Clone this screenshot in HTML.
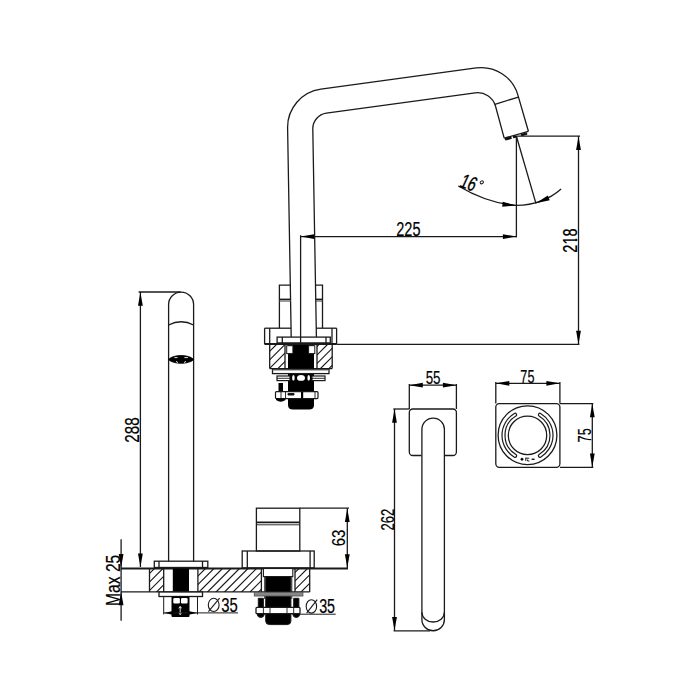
<!DOCTYPE html>
<html><head><meta charset="utf-8"><style>
html,body{margin:0;padding:0;background:#fff;width:700px;height:700px;overflow:hidden}
svg{display:block}
text{font-family:"Liberation Sans",sans-serif}
</style></head><body>
<svg width="700" height="700" viewBox="0 0 700 700" stroke="#1a1a1a" fill="none" stroke-linecap="butt">
<rect x="0" y="0" width="700" height="700" fill="#fff" stroke="none"/>
<path d="M291.2,337 L287.6,127.95 A38.5,38.5 0 0 1 320.9,89.14 L476.25,67.92 A38,38 0 0 1 517.84,94.85 L528.4,131.3" stroke-width="1.3" fill="none"/>
<path d="M316.4,337 L312.8,129.06 A15.75,15.75 0 0 1 326.4,113.19 L475.2,92.86 A18.5,18.5 0 0 1 495.54,106.26 L504.2,138.2" stroke-width="1.3" fill="none"/>
<line x1="494.9" y1="104.3" x2="518.5" y2="97.1" stroke-width="1.3"/>
<line x1="504.2" y1="138.2" x2="528.4" y2="131.3" stroke-width="1.3"/>
<path d="M505,138.7 L511,137.1 L511.4,138.5 L505.6,140.1 Z M513.2,136.6 L516,135.8 L516.4,137.1 L513.6,137.9 Z M521,134.4 L526.5,132.9 L527,134.3 L521.5,135.8 Z" fill="#000" stroke="#000" stroke-width="0.8"/>
<line x1="516.4" y1="136.2" x2="580" y2="136.2" stroke-width="1.3"/>
<line x1="516.4" y1="136.2" x2="516.4" y2="237.4" stroke-width="1.3"/>
<line x1="516.4" y1="136.2" x2="536" y2="203.6" stroke-width="1.3"/>
<line x1="300.7" y1="236.6" x2="516.4" y2="236.6" stroke-width="1.3"/>
<path d="M300.70,236.60 L314.20,234.20 L314.20,239.00 Z" fill="#000" stroke="none"/>
<path d="M516.40,236.60 L502.90,239.00 L502.90,234.20 Z" fill="#000" stroke="none"/>
<line x1="578.5" y1="136.2" x2="578.5" y2="344.5" stroke-width="1.3"/>
<path d="M578.50,136.60 L580.90,150.10 L576.10,150.10 Z" fill="#000" stroke="none"/>
<path d="M578.50,344.20 L576.10,330.70 L580.90,330.70 Z" fill="#000" stroke="none"/>
<line x1="336.6" y1="344.3" x2="579.4" y2="344.3" stroke-width="1.3"/>
<text transform="translate(396.269,235.610) scale(0.7264,0.9746)" x="0" y="0" font-size="20" fill="#000" stroke="#000" stroke-width="0.2">225</text>
<text transform="translate(577.010,252.631) rotate(-90) scale(0.7271,0.9746)" x="0" y="0" font-size="20" fill="#000" stroke="#000" stroke-width="0.2">218</text>
<rect x="574.3" y="236.3" width="3.4" height="2.5" rx="0" stroke="none" fill="#fff"/>
<rect x="574.3" y="241.1" width="3.4" height="2.9" rx="0" stroke="none" fill="#fff"/>
<path d="M458.3,186 Q488,203.5 516.4,205.4 Q543,205 561.1,189" stroke-width="1.3" fill="none"/>
<path d="M516.40,205.50 L502.24,206.65 L502.67,201.86 Z" fill="#000" stroke="none"/>
<path d="M535.80,203.20 L547.82,195.60 L549.71,200.23 Z" fill="#000" stroke="none"/>
<text transform="translate(458.4,186.4) rotate(19) skewX(-6) scale(0.68,1)" font-size="20.5" fill="#000" stroke="#000" stroke-width="0.4">16</text>
<ellipse cx="481.8" cy="182.3" rx="1.7" ry="1.4" transform="rotate(-30 481.8 182.3)" fill="none" stroke-width="1"/>
<path d="M291.0,285.2 L279.4,285.2 L279.4,328.2" stroke-width="1.3" fill="none"/>
<line x1="279.4" y1="299.3" x2="291.0" y2="299.3" stroke-width="1.4"/>
<line x1="279.4" y1="301.0" x2="291.0" y2="301.0" stroke-width="1.2" stroke="#555"/>
<path d="M315.8,285.2 L322.5,285.2 L322.5,328.2" stroke-width="1.3" fill="none"/>
<line x1="315.9" y1="299.3" x2="322.5" y2="299.3" stroke-width="1.4"/>
<line x1="315.9" y1="301.0" x2="322.5" y2="301.0" stroke-width="1.2" stroke="#555"/>
<line x1="300.6" y1="235.2" x2="300.6" y2="345" stroke-width="1.3"/>
<line x1="264.6" y1="328.2" x2="291.2" y2="328.2" stroke-width="1.3"/>
<line x1="316.4" y1="328.2" x2="336.6" y2="328.2" stroke-width="1.3"/>
<line x1="264.6" y1="328.2" x2="264.6" y2="344.3" stroke-width="1.3"/>
<line x1="336.6" y1="328.2" x2="336.6" y2="344.3" stroke-width="1.3"/>
<line x1="269.7" y1="328.2" x2="269.7" y2="344.3" stroke-width="1.3"/>
<line x1="332.0" y1="328.2" x2="332.0" y2="344.3" stroke-width="1.3"/>
<rect x="277.1" y="337.1" width="53.2" height="5.8" rx="0" stroke-width="1.3" fill="none"/>
<line x1="282.3" y1="337.1" x2="282.3" y2="342.9" stroke-width="1.3"/>
<line x1="326" y1="337.1" x2="326" y2="342.9" stroke-width="1.3"/>
<line x1="264.6" y1="344.0" x2="336.6" y2="344.0" stroke-width="2.0"/>
<clipPath id="c41"><rect x="269.7" y="344.3" width="15.300000000000011" height="24.30000000000001"/></clipPath>
<path d="M241.90,370.6 L270.20,342.3 M250.40,370.6 L278.70,342.3 M258.90,370.6 L287.20,342.3 M267.40,370.6 L295.70,342.3 M275.90,370.6 L304.20,342.3 M284.40,370.6 L312.70,342.3" clip-path="url(#c41)" stroke-width="1.2" fill="none"/>
<clipPath id="c43"><rect x="317" y="344.3" width="15.199999999999989" height="24.30000000000001"/></clipPath>
<path d="M284.40,370.6 L312.70,342.3 M292.90,370.6 L321.20,342.3 M301.40,370.6 L329.70,342.3 M309.90,370.6 L338.20,342.3 M318.40,370.6 L346.70,342.3 M326.90,370.6 L355.20,342.3 M335.40,370.6 L363.70,342.3" clip-path="url(#c43)" stroke-width="1.2" fill="none"/>
<line x1="269.7" y1="344.3" x2="269.7" y2="368.6" stroke-width="1.3"/>
<line x1="332.2" y1="344.3" x2="332.2" y2="368.6" stroke-width="1.3"/>
<line x1="269.7" y1="368.6" x2="332.2" y2="368.6" stroke-width="1.3"/>
<line x1="285" y1="344.3" x2="285" y2="368.6" stroke-width="1.3"/>
<line x1="317" y1="344.3" x2="317" y2="368.6" stroke-width="1.3"/>
<path d="M288,345 L314,345 L314,405 Q314,409.5 309,409.5 L293,409.5 Q288,409.5 288,405 Z" fill="#000" stroke="none"/>
<rect x="286.7" y="345.7" width="6.2" height="7.9" rx="0" stroke="none" fill="#fff"/>
<rect x="286.7" y="345.7" width="6.2" height="7.9" rx="0" stroke-width="1" fill="none"/>
<rect x="308.6" y="345.7" width="6.2" height="7.9" rx="0" stroke="none" fill="#fff"/>
<rect x="308.6" y="345.7" width="6.2" height="7.9" rx="0" stroke-width="1" fill="none"/>
<rect x="272.5" y="369.2" width="56.5" height="4.4" rx="0" stroke-width="1.3" fill="#fff"/>
<line x1="272.5" y1="370.2" x2="329" y2="370.2" stroke-width="0.8" stroke="#777"/>
<rect x="277" y="376" width="13" height="4.6" rx="0" stroke-width="1.2" fill="#fff"/>
<line x1="277" y1="378.3" x2="290" y2="378.3" stroke-width="0.9"/>
<rect x="312" y="376" width="13" height="4.6" rx="0" stroke-width="1.2" fill="#fff"/>
<line x1="312" y1="378.3" x2="325" y2="378.3" stroke-width="0.9"/>
<ellipse cx="293.4" cy="377.9" rx="1.3" ry="2.9" fill="#fff" stroke="none"/>
<ellipse cx="301" cy="377.9" rx="4" ry="2.9" fill="#fff" stroke="none"/>
<ellipse cx="308.7" cy="377.9" rx="1.3" ry="2.9" fill="#fff" stroke="none"/>
<rect x="278.5" y="383" width="4.5" height="9" rx="0" stroke="none" fill="#000"/>
<rect x="275.5" y="391.6" width="42.5" height="7" rx="1" stroke-width="1.2" fill="#fff"/>
<line x1="281" y1="391.6" x2="281" y2="398.6" stroke-width="0.9"/>
<line x1="285.5" y1="391.6" x2="285.5" y2="398.6" stroke-width="0.9"/>
<line x1="315" y1="391.6" x2="315" y2="398.6" stroke-width="0.9"/>
<rect x="301" y="392" width="2.2" height="6.5" rx="0" stroke="none" fill="#000"/>
<path d="M288,393.5 L294,393.5 L294,395 L288,395 Z" fill="#000"/>
<path d="M276,398.6 L285.5,398.6 L285.5,400 Q280.7,403.5 276,400 Z" fill="#000" stroke="none"/>
<path d="M168.6,561.4 L168.6,304.6 A12.5,12.5 0 0 1 193.6,304.6 L193.6,561.4" stroke-width="1.3" fill="none"/>
<path d="M168.6,325 Q181.1,318.5 193.6,325" stroke-width="1.3" fill="none"/>
<path d="M168.6,359.5 C173,354.2 189,354.2 193.7,359.5 C189,364.6 173,364.6 168.6,359.5 Z" fill="#000" stroke="#000" stroke-width="0.8"/>
<path d="M174.4,357.6 L177.5,357.6 M184.4,357.6 L187.9,357.6 M176,361.4 L178,362.6 M184,362.6 L186,361.4" stroke="#fff" stroke-width="0.9"/>
<rect x="154.3" y="561.2" width="53.5" height="6.3" rx="0" stroke-width="1.3" fill="none"/>
<line x1="159" y1="561.2" x2="159" y2="567.5" stroke-width="1.3"/>
<line x1="202.5" y1="561.2" x2="202.5" y2="567.5" stroke-width="1.3"/>
<line x1="138.6" y1="292" x2="180.6" y2="292" stroke-width="1.3"/>
<line x1="140.4" y1="292" x2="140.4" y2="567" stroke-width="1.3"/>
<path d="M140.40,292.30 L142.80,305.80 L138.00,305.80 Z" fill="#000" stroke="none"/>
<path d="M140.40,567.00 L138.00,553.50 L142.80,553.50 Z" fill="#000" stroke="none"/>
<text transform="translate(139.406,442.767) rotate(-90) scale(0.7620,0.9958)" x="0" y="0" font-size="20" fill="#000" stroke="#000" stroke-width="0.2">288</text>
<line x1="121" y1="568.5" x2="348" y2="568.5" stroke-width="1.8"/>
<line x1="121" y1="591.9" x2="309.7" y2="591.9" stroke-width="1.3"/>
<clipPath id="c86"><rect x="149.5" y="568.5" width="14.199999999999989" height="23.399999999999977"/></clipPath>
<path d="M120.60,593.9 L148.00,566.5 M129.10,593.9 L156.50,566.5 M137.60,593.9 L165.00,566.5 M146.10,593.9 L173.50,566.5 M154.60,593.9 L182.00,566.5 M163.10,593.9 L190.50,566.5" clip-path="url(#c86)" stroke-width="1.2" fill="none"/>
<clipPath id="c88"><rect x="197.9" y="568.5" width="63.49999999999997" height="23.399999999999977"/></clipPath>
<path d="M171.60,593.9 L199.00,566.5 M180.10,593.9 L207.50,566.5 M188.60,593.9 L216.00,566.5 M197.10,593.9 L224.50,566.5 M205.60,593.9 L233.00,566.5 M214.10,593.9 L241.50,566.5 M222.60,593.9 L250.00,566.5 M231.10,593.9 L258.50,566.5 M239.60,593.9 L267.00,566.5 M248.10,593.9 L275.50,566.5 M256.60,593.9 L284.00,566.5 M265.10,593.9 L292.50,566.5" clip-path="url(#c88)" stroke-width="1.2" fill="none"/>
<clipPath id="c90"><rect x="295.0" y="568.5" width="14.699999999999989" height="23.399999999999977"/></clipPath>
<path d="M265.10,593.9 L292.50,566.5 M273.60,593.9 L301.00,566.5 M282.10,593.9 L309.50,566.5 M290.60,593.9 L318.00,566.5 M299.10,593.9 L326.50,566.5 M307.60,593.9 L335.00,566.5 M316.10,593.9 L343.50,566.5" clip-path="url(#c90)" stroke-width="1.2" fill="none"/>
<line x1="149.5" y1="568.5" x2="149.5" y2="591.9" stroke-width="1.3"/>
<line x1="163.7" y1="568.5" x2="163.7" y2="591.9" stroke-width="1.3"/>
<line x1="197.9" y1="568.5" x2="197.9" y2="591.9" stroke-width="1.3"/>
<line x1="261.4" y1="568.5" x2="261.4" y2="591.9" stroke-width="1.3"/>
<line x1="295.0" y1="568.5" x2="295.0" y2="591.9" stroke-width="1.3"/>
<line x1="309.7" y1="568.5" x2="309.7" y2="591.9" stroke-width="1.3"/>
<rect x="172.8" y="568.5" width="16.2" height="23.2" rx="0" stroke="none" fill="#000"/>
<rect x="159" y="592" width="43.5" height="4.5" rx="0" stroke-width="1.3" fill="#fff"/>
<rect x="171.5" y="596.5" width="18" height="20.5" rx="1" stroke="none" fill="#000"/>
<rect x="173.3" y="598" width="6.6" height="5.5" rx="1.2" stroke="none" fill="#fff"/>
<rect x="181" y="598" width="6.6" height="5.5" rx="1.2" stroke="none" fill="#fff"/>
<path d="M180.2,606.5 L180.2,614.5 M178.8,608.3 L180.2,606.5 L181.6,608.3 M178.8,612.7 L180.2,614.5 L181.6,612.7" stroke="#fff" stroke-width="0.9" fill="none"/>
<line x1="163.7" y1="596.5" x2="163.7" y2="614.5" stroke-width="1"/>
<line x1="197.5" y1="596.5" x2="197.5" y2="614.5" stroke-width="1"/>
<line x1="163.7" y1="612.9" x2="238" y2="612.9" stroke-width="1"/>
<path d="M163.90,612.90 L172.90,611.00 L172.90,614.80 Z" fill="#000" stroke="none"/>
<path d="M197.30,612.90 L188.30,614.80 L188.30,611.00 Z" fill="#000" stroke="none"/>
<ellipse cx="213.7" cy="604.9" rx="5.4" ry="6.6" fill="none" stroke-width="1.1"/>
<line x1="208.4" y1="611.6" x2="219.6" y2="598.1" stroke-width="1.1"/>
<text transform="translate(221.335,612.303) scale(0.7411,1.0099)" x="0" y="0" font-size="20" fill="#000" stroke="#000" stroke-width="0.2">35</text>
<line x1="121.1" y1="539.3" x2="121.1" y2="620.7" stroke-width="1.3"/>
<path d="M121.10,567.60 L118.70,554.10 L123.50,554.10 Z" fill="#000" stroke="none"/>
<path d="M121.10,591.70 L123.50,605.20 L118.70,605.20 Z" fill="#000" stroke="none"/>
<text transform="translate(120.300,605.879) rotate(-90) scale(0.7796,1.0240)" x="0" y="0" font-size="20" fill="#000" stroke="#000" stroke-width="0.2">Max 25</text>
<rect x="256.4" y="508.2" width="43.4" height="42.8" rx="0" stroke-width="1.3" fill="none"/>
<line x1="256.4" y1="522.4" x2="299.8" y2="522.4" stroke-width="1.9"/>
<line x1="256.4" y1="524.8" x2="299.8" y2="524.8" stroke-width="0.9"/>
<rect x="242.2" y="551" width="72" height="16.9" rx="0" stroke-width="1.3" fill="none"/>
<line x1="247.3" y1="551" x2="247.3" y2="567.9" stroke-width="1.3"/>
<line x1="310.1" y1="551" x2="310.1" y2="567.9" stroke-width="1.3"/>
<line x1="299.8" y1="508.2" x2="349" y2="508.2" stroke-width="1.3"/>
<line x1="347.3" y1="508.2" x2="347.3" y2="567.9" stroke-width="1.3"/>
<path d="M347.30,508.40 L349.70,521.90 L344.90,521.90 Z" fill="#000" stroke="none"/>
<path d="M347.30,567.70 L344.90,554.20 L349.70,554.20 Z" fill="#000" stroke="none"/>
<text transform="translate(345.325,546.264) rotate(-90) scale(0.7518,0.8969)" x="0" y="0" font-size="20" fill="#000" stroke="#000" stroke-width="0.2">63</text>
<rect x="263.4" y="568.5" width="29.4" height="8.1" rx="0" stroke-width="1.1" fill="#fff"/>
<line x1="264.7" y1="576.6" x2="264.7" y2="599" stroke-width="0.9"/>
<line x1="291.8" y1="576.6" x2="291.8" y2="599" stroke-width="0.9"/>
<path d="M265.7,576.6 L290.9,576.6 L290.9,621 Q290.9,624.6 287,624.6 L269.6,624.6 Q265.7,624.6 265.7,621 Z" fill="#000"/>
<rect x="254.3" y="592.2" width="48.6" height="3.8" fill="#888" stroke="#555" stroke-width="0.9"/>
<rect x="256" y="607.4" width="44" height="6.3" rx="1" stroke-width="1.3" fill="#fff"/>
<line x1="263.4" y1="607.4" x2="263.4" y2="613.7" stroke-width="0.9"/>
<line x1="293.7" y1="607.4" x2="293.7" y2="613.7" stroke-width="0.9"/>
<line x1="270" y1="607.4" x2="270" y2="613.7" stroke-width="0.9"/>
<line x1="287" y1="607.4" x2="287" y2="613.7" stroke-width="0.9"/>
<path d="M258.3,598.3 L263.4,598.3 L263.4,607.4 L258.3,607.4 Z M293.7,598.3 L298.9,598.3 L298.9,607.4 L293.7,607.4 Z" fill="#000"/>
<path d="M257,613.7 L264.5,613.7 Q264,617.5 260.8,617.5 Q257.5,617.5 257,613.7 Z M292.6,613.7 L300,613.7 Q299.5,617.5 296.3,617.5 Q293,617.5 292.6,613.7 Z" fill="#000"/>
<line x1="300" y1="614.2" x2="335.7" y2="614.2" stroke-width="1"/>
<ellipse cx="311.4" cy="606.4" rx="5.2" ry="6.7" fill="none" stroke-width="1.1"/>
<line x1="306.6" y1="613.2" x2="317.2" y2="599.6" stroke-width="1.1"/>
<text transform="translate(319.154,613.306) scale(0.7169,0.9958)" x="0" y="0" font-size="20" fill="#000" stroke="#000" stroke-width="0.2">35</text>
<rect x="409.3" y="409" width="47.1" height="46.5" rx="3.5" stroke-width="1.3" fill="none"/>
<rect x="421.5" y="454" width="23.5" height="3" rx="0" stroke="none" fill="#fff"/>
<path d="M421.9,619.5 L421.9,429.3 A11.25,11.25 0 0 1 444.4,429.3 L444.4,619.5 A11.25,11.25 0 0 1 421.9,619.5 Z" stroke-width="1.3" fill="#fff"/>
<path d="M421.9,612.3 A11.25,9.7 0 0 0 444.4,612.3" stroke-width="1.3" fill="none"/>
<line x1="409.3" y1="384" x2="409.3" y2="409" stroke-width="1.3"/>
<line x1="456.4" y1="384" x2="456.4" y2="409" stroke-width="1.3"/>
<line x1="409.3" y1="385.2" x2="456.4" y2="385.2" stroke-width="1.3"/>
<path d="M409.30,385.20 L422.80,382.80 L422.80,387.60 Z" fill="#000" stroke="none"/>
<path d="M456.40,385.20 L442.90,387.60 L442.90,382.80 Z" fill="#000" stroke="none"/>
<text transform="translate(425.664,384.424) scale(0.6697,0.9029)" x="0" y="0" font-size="20" fill="#000" stroke="#000" stroke-width="0.2">55</text>
<line x1="393.3" y1="409" x2="409.3" y2="409" stroke-width="1.3"/>
<line x1="393.6" y1="630.8" x2="430" y2="630.8" stroke-width="1.3"/>
<line x1="394.5" y1="409" x2="394.5" y2="630.8" stroke-width="1.3"/>
<path d="M394.50,409.20 L396.90,422.70 L392.10,422.70 Z" fill="#000" stroke="none"/>
<path d="M394.50,630.60 L392.10,617.10 L396.90,617.10 Z" fill="#000" stroke="none"/>
<text transform="translate(393.629,530.554) rotate(-90) scale(0.6506,0.8757)" x="0" y="0" font-size="20" fill="#000" stroke="#000" stroke-width="0.2">262</text>
<rect x="495.8" y="403.6" width="64.1" height="63.7" rx="3.5" stroke-width="1.3" fill="none"/>
<circle cx="527.5" cy="435.2" r="29.4" fill="none" stroke-width="1.3"/>
<circle cx="527.5" cy="435.4" r="19.2" fill="none" stroke-width="1.3"/>
<path d="M514.37,457.16 A25.5,25.5 0 0 1 514.37,413.44 A1.5,1.5 0 0 1 515.91,416.01 A22.5,22.5 0 0 0 515.91,454.59 A1.5,1.5 0 0 1 514.37,457.16 Z" stroke-width="1.2" fill="none"/>
<path d="M540.63,413.44 A25.5,25.5 0 0 1 540.63,457.16 A1.5,1.5 0 0 1 539.09,454.59 A22.5,22.5 0 0 0 539.09,416.01 A1.5,1.5 0 0 1 540.63,413.44 Z" stroke-width="1.2" fill="none"/>
<path d="M520.2,459.2 L522,457.4 L523.8,459.2 L522,461 Z" fill="#000" stroke="none"/>
<path d="M525.8,457.6 L525.8,461 M525.8,458.2 L529.2,458.2 M527.6,459.5 L527.6,461 L529.4,461" fill="none" stroke-width="1"/>
<rect x="531.6" y="458.6" width="3" height="1.3" rx="0" stroke="none" fill="#000"/>
<line x1="495.8" y1="382" x2="495.8" y2="403.6" stroke-width="1.3"/>
<line x1="559.9" y1="382" x2="559.9" y2="403.6" stroke-width="1.3"/>
<line x1="495.8" y1="383.3" x2="559.9" y2="383.3" stroke-width="1.3"/>
<path d="M495.80,383.30 L509.30,380.90 L509.30,385.70 Z" fill="#000" stroke="none"/>
<path d="M559.90,383.30 L546.40,385.70 L546.40,380.90 Z" fill="#000" stroke="none"/>
<text transform="translate(520.351,382.819) scale(0.6329,0.9244)" x="0" y="0" font-size="20" fill="#000" stroke="#000" stroke-width="0.2">75</text>
<line x1="559.9" y1="403.6" x2="593.3" y2="403.6" stroke-width="1.3"/>
<line x1="559.9" y1="467.3" x2="593.3" y2="467.3" stroke-width="1.3"/>
<line x1="592.3" y1="403.6" x2="592.3" y2="467.3" stroke-width="1.3"/>
<path d="M592.30,403.80 L594.70,417.30 L589.90,417.30 Z" fill="#000" stroke="none"/>
<path d="M592.30,467.10 L589.90,453.60 L594.70,453.60 Z" fill="#000" stroke="none"/>
<text transform="translate(591.119,442.454) rotate(-90) scale(0.6379,0.9244)" x="0" y="0" font-size="20" fill="#000" stroke="#000" stroke-width="0.2">75</text>
</svg></body></html>
